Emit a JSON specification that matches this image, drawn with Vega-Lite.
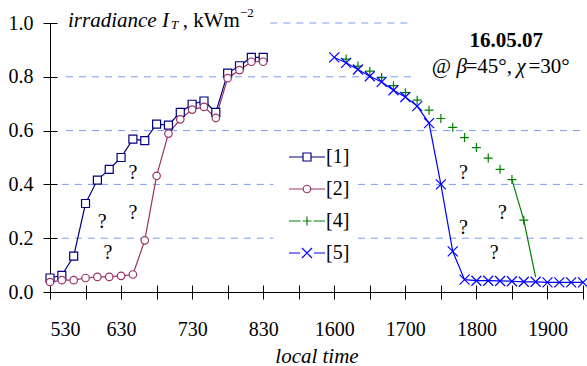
{
  "$schema": "https://vega.github.io/schema/vega-lite/v6.json",
  "width": 533,
  "height": 269,
  "autosize": {"type": "none"},
  "padding": {"left": 50, "top": 23, "right": 4, "bottom": 74},
  "background": "white",
  "config": {
    "view": {"stroke": null},
    "font": "Liberation Serif, Times New Roman, DejaVu Serif, serif",
    "text": {"font": "Liberation Serif, Times New Roman, DejaVu Serif, serif"},
    "axis": {"grid": false, "domainColor": "black", "tickColor": "black", "labelColor": "black", "titleColor": "black", "labelFont": "Liberation Serif, Times New Roman, DejaVu Serif, serif", "labelFontSize": 20, "titleFont": "Liberation Serif, Times New Roman, DejaVu Serif, serif", "domainWidth": 1, "tickWidth": 1},
    "legend": {"labelFont": "Liberation Serif, Times New Roman, DejaVu Serif, serif", "labelFontSize": 20, "labelColor": "black"}
  },
  "datasets": {
    "obs": [
      {"s": "[1]", "t": 530, "v": 0.052}, {"s": "[1]", "t": 540, "v": 0.062}, {"s": "[1]", "t": 550, "v": 0.133}, {"s": "[1]", "t": 600, "v": 0.329},
      {"s": "[1]", "t": 610, "v": 0.416}, {"s": "[1]", "t": 620, "v": 0.456}, {"s": "[1]", "t": 630, "v": 0.5}, {"s": "[1]", "t": 640, "v": 0.568},
      {"s": "[1]", "t": 650, "v": 0.563}, {"s": "[1]", "t": 700, "v": 0.624}, {"s": "[1]", "t": 710, "v": 0.62}, {"s": "[1]", "t": 720, "v": 0.668},
      {"s": "[1]", "t": 730, "v": 0.698}, {"s": "[1]", "t": 740, "v": 0.71}, {"s": "[1]", "t": 750, "v": 0.668}, {"s": "[1]", "t": 800, "v": 0.814},
      {"s": "[1]", "t": 810, "v": 0.841}, {"s": "[1]", "t": 820, "v": 0.872}, {"s": "[1]", "t": 830, "v": 0.872},
      {"s": "[2]", "t": 530, "v": 0.037}, {"s": "[2]", "t": 540, "v": 0.044}, {"s": "[2]", "t": 550, "v": 0.044}, {"s": "[2]", "t": 600, "v": 0.052},
      {"s": "[2]", "t": 610, "v": 0.056}, {"s": "[2]", "t": 620, "v": 0.056}, {"s": "[2]", "t": 630, "v": 0.06}, {"s": "[2]", "t": 640, "v": 0.065},
      {"s": "[2]", "t": 650, "v": 0.192}, {"s": "[2]", "t": 700, "v": 0.432}, {"s": "[2]", "t": 710, "v": 0.589}, {"s": "[2]", "t": 720, "v": 0.642},
      {"s": "[2]", "t": 730, "v": 0.678}, {"s": "[2]", "t": 740, "v": 0.688}, {"s": "[2]", "t": 750, "v": 0.647}, {"s": "[2]", "t": 800, "v": 0.795},
      {"s": "[2]", "t": 810, "v": 0.825}, {"s": "[2]", "t": 820, "v": 0.856}, {"s": "[2]", "t": 830, "v": 0.856},
      {"s": "[4]", "t": 1610, "v": 0.866}, {"s": "[4]", "t": 1620, "v": 0.84}, {"s": "[4]", "t": 1630, "v": 0.821}, {"s": "[4]", "t": 1640, "v": 0.797},
      {"s": "[4]", "t": 1650, "v": 0.767}, {"s": "[4]", "t": 1700, "v": 0.741}, {"s": "[4]", "t": 1710, "v": 0.713}, {"s": "[4]", "t": 1720, "v": 0.676},
      {"s": "[4]", "t": 1730, "v": 0.645}, {"s": "[4]", "t": 1740, "v": 0.612}, {"s": "[4]", "t": 1750, "v": 0.574}, {"s": "[4]", "t": 1800, "v": 0.537},
      {"s": "[4]", "t": 1810, "v": 0.498}, {"s": "[4]", "t": 1820, "v": 0.456}, {"s": "[4]", "t": 1830, "v": 0.418}, {"s": "[4]", "t": 1840, "v": 0.267},
      {"s": "[4]", "t": 1850, "v": 0.055},
      {"s": "[5]", "t": 1600, "v": 0.872}, {"s": "[5]", "t": 1610, "v": 0.852}, {"s": "[5]", "t": 1620, "v": 0.827}, {"s": "[5]", "t": 1630, "v": 0.802},
      {"s": "[5]", "t": 1640, "v": 0.781}, {"s": "[5]", "t": 1650, "v": 0.75}, {"s": "[5]", "t": 1700, "v": 0.725}, {"s": "[5]", "t": 1710, "v": 0.691},
      {"s": "[5]", "t": 1720, "v": 0.628}, {"s": "[5]", "t": 1730, "v": 0.4}, {"s": "[5]", "t": 1740, "v": 0.151}, {"s": "[5]", "t": 1750, "v": 0.046},
      {"s": "[5]", "t": 1800, "v": 0.042}, {"s": "[5]", "t": 1810, "v": 0.042}, {"s": "[5]", "t": 1820, "v": 0.041}, {"s": "[5]", "t": 1830, "v": 0.04},
      {"s": "[5]", "t": 1840, "v": 0.038}, {"s": "[5]", "t": 1850, "v": 0.038}, {"s": "[5]", "t": 1900, "v": 0.036}, {"s": "[5]", "t": 1910, "v": 0.036},
      {"s": "[5]", "t": 1920, "v": 0.036}, {"s": "[5]", "t": 1930, "v": 0.036}
    ],
    "qmarks": [
      {"t": 640, "v": 0.441}, {"t": 614, "v": 0.261}, {"t": 640, "v": 0.293}, {"t": 619, "v": 0.144},
      {"t": 1749, "v": 0.441}, {"t": 1822, "v": 0.293}, {"t": 1749, "v": 0.237}, {"t": 1815, "v": 0.144}
    ],
    "grid": [
      {"g": 1.0, "a": 186, "b": 306}, {"g": 0.8, "a": 13.5, "b": 306}, {"g": 0.6, "a": 13.5, "b": 450},
      {"g": 0.4, "a": 10, "b": 188.5}, {"g": 0.4, "a": 260, "b": 450},
      {"g": 0.2, "a": 10, "b": 188.5}, {"g": 0.2, "a": 260, "b": 450}
    ],
    "keys": [{"s": "[1]"}, {"s": "[2]"}, {"s": "[4]"}, {"s": "[5]"}]
  },
  "resolve": {"scale": {"color": "independent", "shape": "independent", "stroke": "independent"}, "axis": {"x": "independent", "y": "independent"}},
  "layer": [
    {
      "data": {"name": "grid"},
      "mark": {"type": "rule", "color": "#7d9bf5", "strokeDash": [7, 6], "strokeWidth": 1},
      "encoding": {
        "x": {"field": "a", "type": "quantitative", "scale": {"domain": [0, 450], "nice": false, "zero": false},
              "axis": {"orient": "bottom", "tickSize": 7, "labelPadding": 20, "domain": true, "labelOverlap": false,
                       "values": [0, 30, 60, 90, 120, 150, 180, 210, 240, 270, 300, 330, 360, 390, 420, 450],
                       "labelExpr": "datum.value % 60 == 0 ? (datum.value <= 180 ? '' + (530 + datum.value/60*100) : '' + (1600 + (datum.value-240)/60*100)) : ''",
                       "title": "local time", "titleFontStyle": "italic", "titleFontWeight": "normal", "titleFontSize": 21,
                       "titleX": 266.5, "titleY": 70, "titleBaseline": "alphabetic"}},
        "x2": {"field": "b"},
        "y": {"field": "g", "type": "quantitative", "scale": {"domain": [0, 1], "nice": false},
              "axis": {"orient": "left", "tickSize": 7, "labelPadding": 10, "domain": true, "format": ".1f", "title": null,
                       "values": [0, 0.2, 0.4, 0.6, 0.8, 1.0]}}
      }
    },
    {
      "data": {"name": "grid"},
      "mark": {"type": "rule", "opacity": 0},
      "encoding": {
        "x": {"field": "a", "type": "quantitative",
              "axis": {"orient": "bottom", "tickSize": -7, "labels": false, "domain": false, "title": null,
                       "values": [0, 30, 60, 90, 120, 150, 180, 210, 240, 270, 300, 330, 360, 390, 420, 450]}},
        "x2": {"field": "b"},
        "y": {"field": "g", "type": "quantitative",
              "axis": {"orient": "left", "tickSize": -7, "labels": false, "domain": false, "title": null,
                       "values": [0, 0.2, 0.4, 0.6, 0.8, 1.0]}}
      }
    },
    {
      "layer": [
        {
          "data": {"name": "obs"},
          "transform": [
            {"filter": "datum.s != '[4]' || datum.t >= 1830"},
            {"calculate": "floor(datum.t/100)*60 + datum.t%100 - (datum.t < 1200 ? 330 : 720)", "as": "pos"}
          ],
          "mark": {"type": "line", "strokeWidth": 1.2},
          "encoding": {
            "x": {"field": "pos", "type": "quantitative", "axis": null},
            "y": {"field": "v", "type": "quantitative", "axis": null},
            "color": {"field": "s", "type": "nominal", "legend": null,
                      "scale": {"domain": ["[1]", "[2]", "[4]", "[5]"], "range": ["#000080", "#993366", "#008000", "#0000ff"]}}
          }
        },
        {
          "data": {"name": "obs"},
          "transform": [
            {"filter": "!(datum.s == '[4]' && datum.t == 1850)"},
            {"calculate": "floor(datum.t/100)*60 + datum.t%100 - (datum.t < 1200 ? 330 : 720)", "as": "pos"}
          ],
          "mark": {"type": "point", "filled": false, "fill": "white", "opacity": 1, "size": 100, "strokeWidth": 1.2},
          "encoding": {
            "x": {"field": "pos", "type": "quantitative", "axis": null},
            "y": {"field": "v", "type": "quantitative", "axis": null},
            "stroke": {"field": "s", "type": "nominal", "legend": null,
                       "scale": {"domain": ["[1]", "[2]", "[4]", "[5]"], "range": ["#000080", "#993366", "#008000", "#0000ff"]}},
            "shape": {"field": "s", "type": "nominal", "legend": null,
                      "scale": {"domain": ["[1]", "[2]", "[4]", "[5]"],
                                "range": ["M-0.8,-0.8H0.8V0.8H-0.8Z",
                                          "M-0.75,0A0.75,0.75,0,1,1,0.75,0A0.75,0.75,0,1,1,-0.75,0Z",
                                          "M-0.9,0H0.9M0,-0.9V0.9",
                                          "M-1,-1L1,1M-1,1L1,-1"]}}
          }
        },
        {
          "data": {"name": "qmarks"},
          "transform": [
            {"calculate": "floor(datum.t/100)*60 + datum.t%100 - (datum.t < 1200 ? 330 : 720)", "as": "pos"}
          ],
          "mark": {"type": "text", "text": "?", "fontSize": 20, "align": "center", "baseline": "middle", "color": "black"},
          "encoding": {
            "x": {"field": "pos", "type": "quantitative", "axis": null},
            "y": {"field": "v", "type": "quantitative", "axis": null}
          }
        },
        {
          "data": {"values": [{}]},
          "mark": {"type": "text", "text": "16.05.07", "fontSize": 21, "fontWeight": "bold", "align": "center", "baseline": "alphabetic", "color": "black"},
          "encoding": {"x": {"datum": 385.2, "type": "quantitative", "axis": null}, "y": {"datum": 0.912, "type": "quantitative", "axis": null}}
        },
        {
          "data": {"values": [{}]},
          "mark": {"type": "text", "text": "@", "fontSize": 21, "align": "left", "baseline": "alphabetic", "color": "black"},
          "encoding": {"x": {"datum": 322.3, "type": "quantitative", "axis": null}, "y": {"datum": 0.814, "type": "quantitative", "axis": null}}
        },
        {
          "data": {"values": [{}]},
          "mark": {"type": "text", "text": "β", "fontSize": 21, "fontStyle": "italic", "align": "left", "baseline": "alphabetic", "color": "black"},
          "encoding": {"x": {"datum": 343.1, "type": "quantitative", "axis": null}, "y": {"datum": 0.814, "type": "quantitative", "axis": null}}
        },
        {
          "data": {"values": [{}]},
          "mark": {"type": "text", "text": "=45°,", "fontSize": 21, "align": "left", "baseline": "alphabetic", "color": "black"},
          "encoding": {"x": {"datum": 350.8, "type": "quantitative", "axis": null}, "y": {"datum": 0.814, "type": "quantitative", "axis": null}}
        },
        {
          "data": {"values": [{}]},
          "mark": {"type": "text", "text": "χ", "fontSize": 21, "fontStyle": "italic", "align": "left", "baseline": "alphabetic", "color": "black"},
          "encoding": {"x": {"datum": 393.8, "type": "quantitative", "axis": null}, "y": {"datum": 0.814, "type": "quantitative", "axis": null}}
        },
        {
          "data": {"values": [{}]},
          "mark": {"type": "text", "text": "=30°", "fontSize": 21, "align": "left", "baseline": "alphabetic", "color": "black"},
          "encoding": {"x": {"datum": 404, "type": "quantitative", "axis": null}, "y": {"datum": 0.814, "type": "quantitative", "axis": null}}
        },
        {
          "data": {"values": [{}]},
          "mark": {"type": "text", "text": "irradiance I", "fontSize": 21, "fontStyle": "italic", "align": "left", "baseline": "alphabetic", "color": "black"},
          "encoding": {"x": {"datum": 15.2, "type": "quantitative", "axis": null}, "y": {"datum": 0.985, "type": "quantitative", "axis": null}}
        },
        {
          "data": {"values": [{}]},
          "mark": {"type": "text", "text": "T", "fontSize": 13, "fontStyle": "italic", "align": "left", "baseline": "alphabetic", "color": "black"},
          "encoding": {"x": {"datum": 102.2, "type": "quantitative", "axis": null}, "y": {"datum": 0.976, "type": "quantitative", "axis": null}}
        },
        {
          "data": {"values": [{}]},
          "mark": {"type": "text", "text": ", kWm", "fontSize": 21, "align": "left", "baseline": "alphabetic", "color": "black"},
          "encoding": {"x": {"datum": 112, "type": "quantitative", "axis": null}, "y": {"datum": 0.985, "type": "quantitative", "axis": null}}
        },
        {
          "data": {"values": [{}]},
          "mark": {"type": "text", "text": "−2", "fontSize": 13, "align": "left", "baseline": "alphabetic", "color": "black"},
          "encoding": {"x": {"datum": 160.4, "type": "quantitative", "axis": null}, "y": {"datum": 1.024, "type": "quantitative", "axis": null}}
        }
      ]
    },
    {
      "data": {"name": "keys"},
      "mark": {"type": "point", "opacity": 0, "filled": false, "size": 100},
      "encoding": {
        "color": {"field": "s", "type": "nominal",
                  "scale": {"domain": ["[1]", "[2]", "[4]", "[5]"], "range": ["#000080", "#993366", "#008000", "#0000ff"]},
                  "legend": {"orient": "none", "legendX": 247, "legendY": 124, "title": null, "symbolSize": 100, "symbolStrokeWidth": 1.2,
                             "rowPadding": 12, "labelOffset": 9, "symbolOpacity": 1}},
        "shape": {"field": "s", "type": "nominal",
                  "scale": {"domain": ["[1]", "[2]", "[4]", "[5]"],
                            "range": ["M-3.6,0H-0.8M-0.8,-0.8H0.8V0.8H-0.8ZM0.8,0H3.6",
                                      "M-3.6,0H-0.75M-0.75,0A0.75,0.75,0,1,1,0.75,0A0.75,0.75,0,1,1,-0.75,0ZM0.75,0H3.6",
                                      "M-3.6,0H-1.3M-0.9,0H0.9M0,-0.9V0.9M1.3,0H3.6",
                                      "M-3.6,0H-1.4M-1,-1L1,1M-1,1L1,-1M1.4,0H3.6"]},
                  "legend": {"orient": "none", "legendX": 247, "legendY": 124, "title": null, "symbolSize": 100, "symbolStrokeWidth": 1.2,
                             "rowPadding": 12, "labelOffset": 9, "symbolOpacity": 1}}
      }
    }
  ]
}
